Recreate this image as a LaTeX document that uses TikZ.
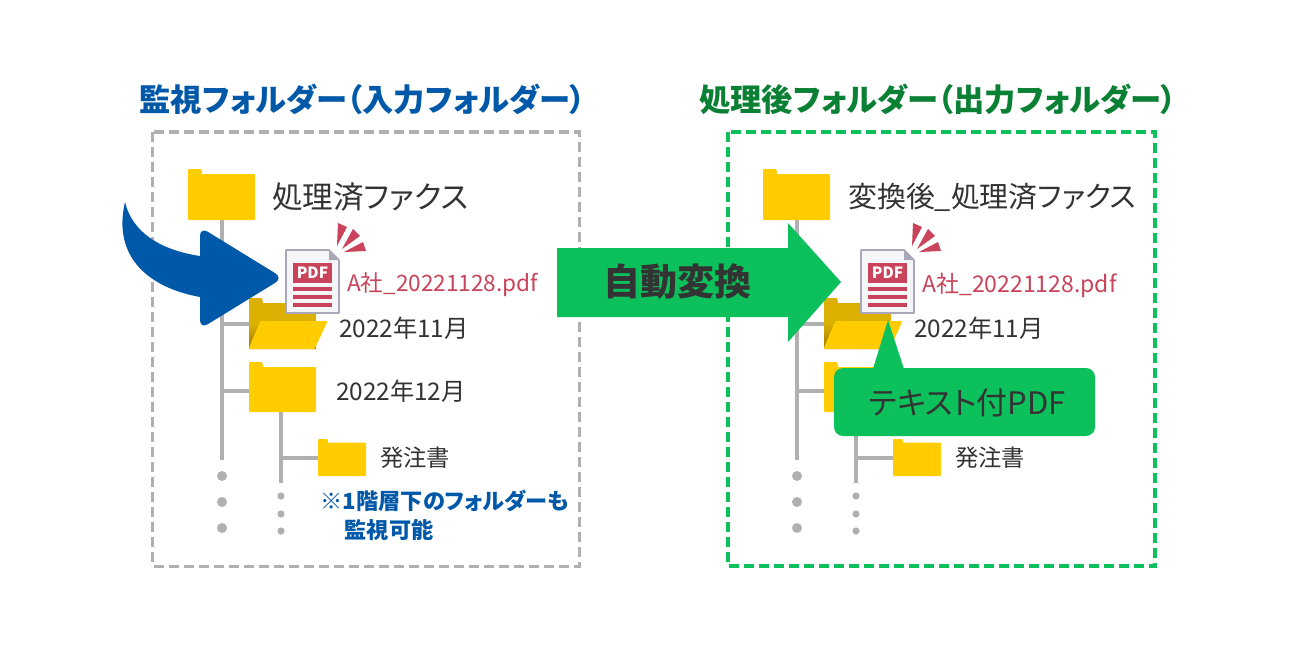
\documentclass[tikz,border=0pt]{standalone}
\usepackage{fontspec}
\setmainfont{Noto Sans CJK JP}[RawFeature=+palt]
\usetikzlibrary{calc}
\definecolor{ink}{HTML}{333333}
\definecolor{bluec}{HTML}{0058A8}
\definecolor{greenc}{HTML}{0CC05C}
\definecolor{greent}{HTML}{0A8035}
\definecolor{redc}{HTML}{C9445A}
\definecolor{foldc}{HTML}{FFCC00}
\definecolor{foldd}{HTML}{DCB000}
\definecolor{treec}{HTML}{B0B0B0}
\definecolor{edgec}{HTML}{A8A8B8}
\tikzset{
  x=1pt,y=-1pt,
  treeline/.style={draw=treec,line width=3.6pt},
  dotmark/.style={fill=treec,draw=none},
  folderfill/.style={fill=foldc,draw=foldc,line width=2pt,line join=round},
  title/.style={font=\fontsize{31.3}{31.3}\selectfont\bfseries,anchor=center,inner sep=0pt},
  lab/.style={font=\fontsize{#1}{#1}\selectfont,text=ink,anchor=west,inner sep=0pt},
  pdfname/.style={font=\fontsize{#1}{#1}\selectfont,text=redc,anchor=west,inner sep=0pt},
}
% closed folder: left x, top y, width, height
\newcommand{\closedfolder}[4]{%
  \path[folderfill] ({#1+1},{#2+1}) -- ({#1+#3*0.2-1},{#2+1}) -- ({#1+#3*0.2},{#2+#4*0.1+1}) -- ({#1+#3-1},{#2+#4*0.1+1})
    -- ({#1+#3-1},{#2+#4-1}) -- ({#1+1},{#2+#4-1}) -- cycle;
}
\newcommand{\pdficon}[2]{%
  \coordinate (#1) at (286,282);
  \path[fill=edgec!10,draw=edgec,line width=1.6pt,line join=round]
    (286,250) -- (329,250) -- (339,260) -- (339,313) -- (286,313) -- cycle;
  \path[fill=edgec] (329,250) -- (339,260) -- (329,260) -- cycle;
  \path[fill=redc] (293,263) rectangle (332,283);
  \node[name=#1t,inner sep=0pt,text=white,font=\fontsize{15.5}{15.5}\selectfont\bfseries] at (312.5,273) {PDF};
  \foreach \yy in {289,297,305} \path[fill=redc] (293,\yy-1.8) rectangle (332,\yy+1.8);
  \path[fill=redc] (338,223) -- (347,227) -- (337,246) -- cycle;
  \path[fill=redc] (353,229) -- (360,236) -- (342,249) -- cycle;
  \path[fill=redc] (363,242) -- (366,251) -- (344,252) -- cycle;
  \node[name=#1n,pdfname=#2] at (347,285) {A社\_20221128.pdf};
}
\newcommand{\panel}[2]{%
  \begin{scope}[xshift=#2 pt]
    \coordinate (#1a) at (222,220);
    \coordinate (#1trunk) at (222,460);
    \coordinate (#1o) at (249,324);
    \coordinate (#1c) at (249,391);
    \coordinate (#1s) at (281,412);
    \coordinate (#1sub) at (281,483);
    \coordinate (#1d) at (318,458);
    \draw[treeline] (#1a) -- (#1trunk);
    \draw[treeline] (#1o) -- (#1o -| #1trunk);
    \draw[treeline] (#1c) -- (#1c -| #1trunk);
    \draw[treeline] (#1s) -- (#1sub);
    \draw[treeline] (#1d) -- (#1d -| #1sub);
    \closedfolder{188}{169}{67}{51}
    \closedfolder{249}{362}{67}{50}
    \closedfolder{318}{439}{48}{37}
    \foreach \yy in {476,502,528} \path[dotmark] (222,\yy) circle (5);
    \foreach \yy in {496,514,531} \path[dotmark] (281,\yy) circle (3.6);
    % open folder
    \path[top color=foldd,bottom color=foldd!70!black,middle color=foldd,line join=round]
      (249,298) -- (262,298) -- (263,303) -- (316,303) -- (316,349) -- (249,349) -- cycle;
    \path[folderfill] (261,322) -- (326,322) -- (314,348) -- (250,348) -- cycle;
    \node[name=#1m,lab=24.3] at (339,328) {2022年11月};
    \node[name=#1h,lab=23.3] at (380,458) {発注書};
  \end{scope}
}
\begin{document}
\begin{tikzpicture}
\useasboundingbox (0,0) rectangle (1300,650);
\fill[white] (0,0) rectangle (1300,650);
\node[name=tl,title,text=bluec] at (362.5,99.5) {監視フォルダー（入力フォルダー）};
\node[name=tr,title,text=greent] at (938,99.5) {処理後フォルダー（出力フォルダー）};
\draw[draw=treec,line width=3pt,dash pattern=on 10pt off 5pt] (152.5,132) rectangle (579,566);
\draw[draw=greenc,line width=4pt,dash pattern=on 10pt off 5pt] (727.5,132) rectangle (1155,566);
\panel{L}{0}
\panel{R}{575}
\node[name=l1,lab=30.6] at (272,197) {処理済ファクス};
\node[name=r1,lab=28.9] at (848,197) {変換後\_処理済ファクス};
\node[name=l2,lab=24.3] at (336,391) {2022年12月};
\node[name=note,font=\fontsize{22.2}{29}\selectfont\bfseries,text=bluec,anchor=north west,inner sep=0pt,align=left] at (320.5,490) {※1階層下のフォルダーも\\\hspace{24pt}監視可能};
% blue curved arrow
\path[fill=bluec]
  (205,297) -- (200,297) .. controls (150,288) and (112,258) .. (125,202)
  .. controls (132,232) and (160,250) .. (200,256) -- (205,256) -- cycle;
\path[fill=bluec,rounded corners=9pt] (200,227) -- (283,278) -- (200,329) -- cycle;
\begin{scope}\pdficon{pl}{22.6}\end{scope}
% green arrow
\path[fill=greenc] (557,248) -- (788,248) -- (788,223) -- (841,282) -- (788,342) -- (788,317) -- (557,317) -- cycle;
\node[name=auto,font=\fontsize{37}{37}\selectfont\bfseries,text=ink,inner sep=0pt] at (677,282) {自動変換};
\begin{scope}[xshift=575pt]\pdficon{pr}{23}\end{scope}
% callout
\path[fill=greenc] (872,372) -- (888,320) -- (905,372) -- cycle;
\node[name=call,fill=greenc,rounded corners=9pt,inner sep=0pt,minimum width=261pt,minimum height=68pt,text=ink] at (964.5,402) {};
\node[name=calltext,font=\fontsize{31}{31}\selectfont,text=ink,inner sep=0pt] at (967.5,403) {テキスト付PDF};
\end{tikzpicture}
\end{document}
